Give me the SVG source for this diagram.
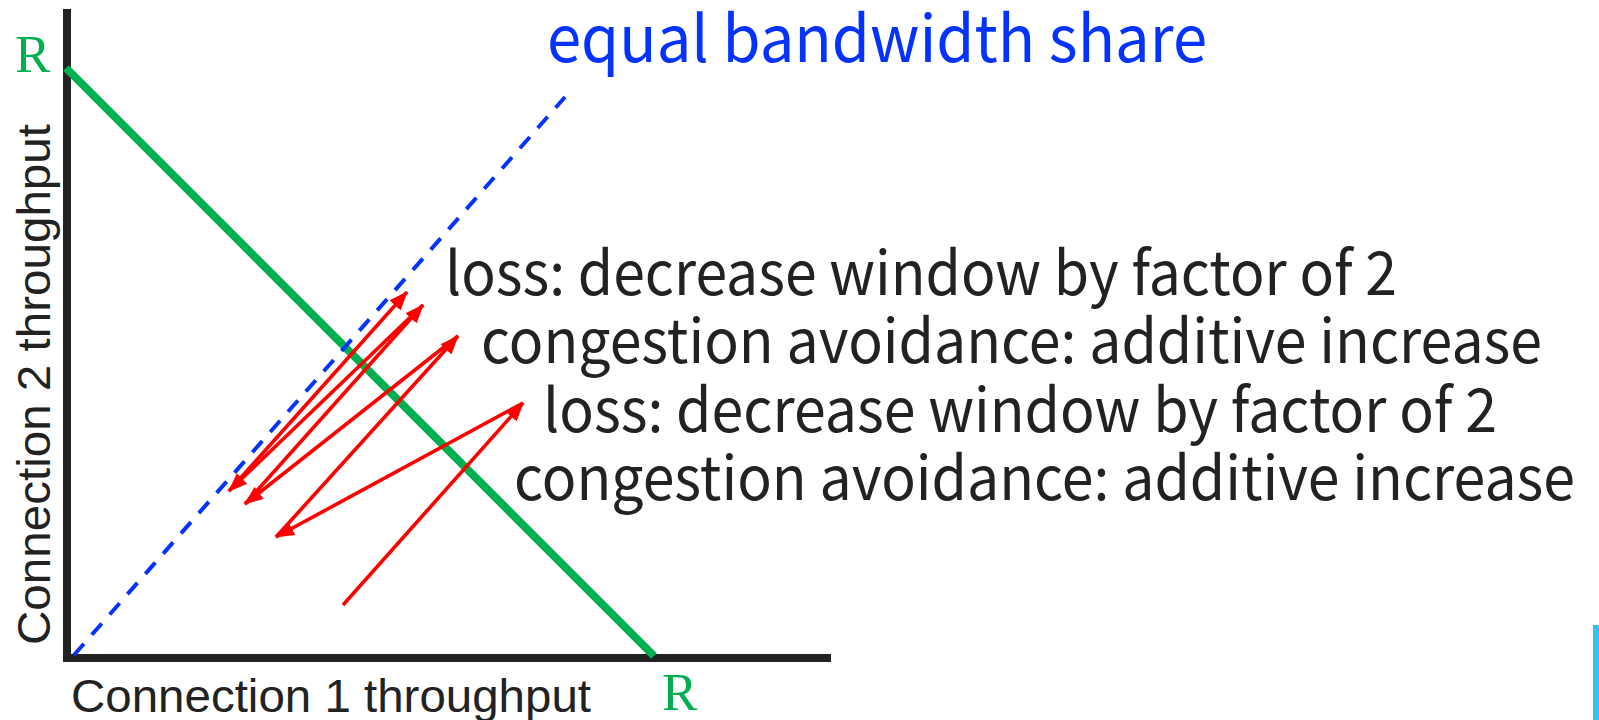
<svg xmlns="http://www.w3.org/2000/svg" width="1599" height="720" viewBox="0 0 1599 720">
  <style>
    .axis { stroke: #222222; stroke-width: 8; fill: none; }
    .limit { stroke: #00B050; stroke-width: 8; fill: none; }
    .fair { stroke: #0433FF; stroke-width: 4; stroke-dasharray: 15 12; fill: none; }
    .arrow { stroke: #FF0000; stroke-width: 3.6; fill: none; marker-end: url(#head); }
    .axislabel { font-family: "Liberation Sans", Arial, sans-serif; font-size: 47px; fill: #222222; }
    .rlabel { font-family: "Liberation Serif", "Times New Roman", serif; font-size: 53px; fill: #00B050; }
    .note { font-family: "Noto Sans CJK SC", "Noto Sans", sans-serif; font-size: 60px; fill: #222222; }
    .title { font-family: "Noto Sans CJK SC", "Noto Sans", sans-serif; font-size: 64px; fill: #0433FF; }
  </style>
  <defs>
    <marker id="head" markerUnits="userSpaceOnUse" markerWidth="19" markerHeight="15" refX="18" refY="7.5" orient="auto">
      <path d="M0,0 L19,7.5 L0,15 z" fill="#FF0000"/>
    </marker>
  </defs>
  <rect width="1599" height="720" fill="#FFFFFF"/>

  <g id="axes">
    <line class="axis" x1="67" y1="9" x2="67" y2="662"/>
    <line class="axis" x1="63" y1="658" x2="831" y2="658"/>
  </g>

  <g id="capacity-line">
    <line class="limit" x1="66" y1="68" x2="654" y2="656"/>
  </g>

  <g id="fair-line">
    <line class="fair" x1="74" y1="655" x2="565" y2="97"/>
  </g>

  <g id="connectors">
    <line class="arrow" x1="343" y1="605" x2="523" y2="403"/>
    <line class="arrow" x1="523" y1="403" x2="276" y2="537"/>
    <line class="arrow" x1="276" y1="537" x2="458" y2="336"/>
    <line class="arrow" x1="458" y1="336" x2="245" y2="504"/>
    <line class="arrow" x1="245" y1="504" x2="423" y2="305"/>
    <line class="arrow" x1="423" y1="305" x2="229" y2="491"/>
    <line class="arrow" x1="229" y1="491" x2="407" y2="292"/>
  </g>

  <g id="labels">
    <text class="rlabel" x="15" y="72">R</text>
    <text class="rlabel" x="662" y="710">R</text>
    <text class="axislabel" x="71" y="712" textLength="520" lengthAdjust="spacingAndGlyphs">Connection 1 throughput</text>
    <text class="axislabel" transform="translate(50,645) rotate(-90)" textLength="521" lengthAdjust="spacingAndGlyphs">Connection 2 throughput</text>
    <text class="title" x="547" y="62" textLength="660" lengthAdjust="spacingAndGlyphs">equal bandwidth share</text>
  </g>

  <g id="notes">
    <text class="note" x="445" y="295" textLength="952" lengthAdjust="spacingAndGlyphs">loss: decrease window by factor of 2</text>
    <text class="note" x="481" y="363" textLength="1061" lengthAdjust="spacingAndGlyphs">congestion avoidance: additive increase</text>
    <text class="note" x="543" y="432" textLength="954" lengthAdjust="spacingAndGlyphs">loss: decrease window by factor of 2</text>
    <text class="note" x="514" y="500" textLength="1061" lengthAdjust="spacingAndGlyphs">congestion avoidance: additive increase</text>
  </g>

  <rect x="1593" y="625" width="6" height="95" fill="#38BDF5"/>
</svg>
